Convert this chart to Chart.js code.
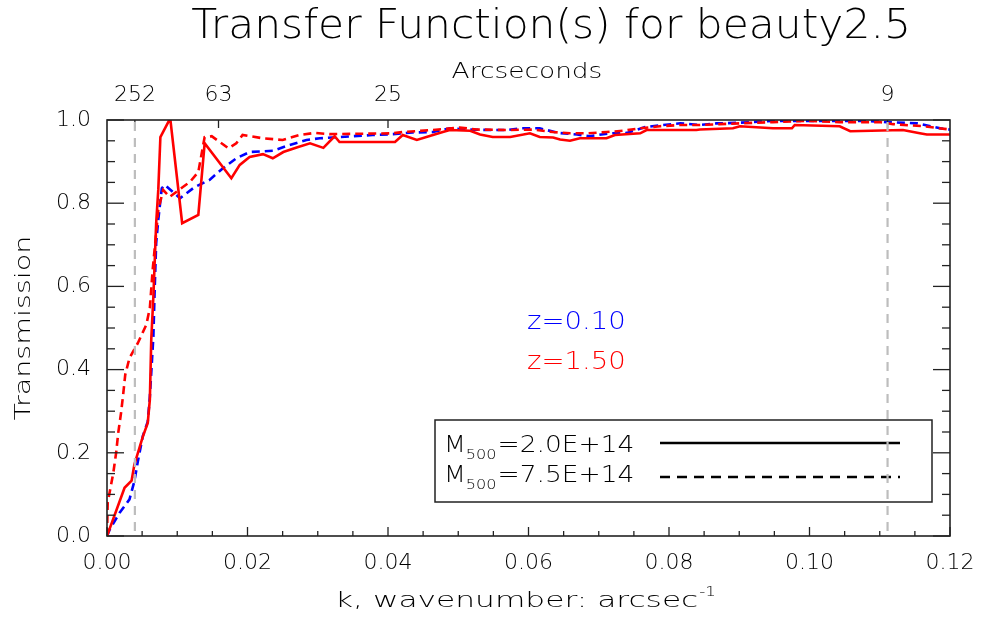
<!DOCTYPE html>
<html><head><meta charset="utf-8">
<script src="https://cdn.jsdelivr.net/npm/chart.js@4/dist/chart.umd.min.js"></script>
<style>html,body{margin:0;padding:0;background:#fff}#wrap{width:982px;height:621px}</style>
</head><body><div id="wrap"><canvas id="c" width="982" height="621"></canvas></div>
<script>
// ---- data ----
const kRedSolid = [0,0.0025,0.0035,0.0039,0.0051,0.0058,0.0061,0.0063,0.0066,0.0068,0.0070,0.0073,0.0076,0.0090,0.0107,0.0130,0.0139,0.0177,0.0189,0.0203,0.0222,0.0236,0.0251,0.0270,0.0289,0.0308,0.0324,0.0331,0.0410,0.0421,0.0441,0.0464,0.0478,0.0488,0.0517,0.0531,0.0549,0.0574,0.0602,0.0616,0.0635,0.0645,0.0659,0.0673,0.0711,0.0723,0.0759,0.0768,0.0839,0.0844,0.0891,0.0901,0.0948,0.0975,0.0979,0.1043,0.1058,0.1133,0.1157,0.1167,0.1200];
const tRedSolid = [0,0.116,0.133,0.172,0.239,0.272,0.328,0.472,0.575,0.664,0.752,0.832,0.959,1.004,0.752,0.772,0.944,0.860,0.892,0.911,0.918,0.908,0.923,0.934,0.944,0.933,0.961,0.947,0.947,0.964,0.952,0.964,0.971,0.976,0.974,0.965,0.959,0.959,0.968,0.959,0.958,0.953,0.950,0.956,0.956,0.964,0.968,0.976,0.976,0.977,0.980,0.985,0.980,0.980,0.988,0.985,0.973,0.976,0.968,0.965,0.965];

const kRedDashed = [0,0.0001,0.0009,0.0013,0.0016,0.0020,0.0023,0.0026,0.0032,0.0044,0.0056,0.0061,0.0065,0.0069,0.0073,0.0080,0.0089,0.0108,0.0118,0.0130,0.0139,0.0149,0.0163,0.0173,0.0184,0.0193,0.0222,0.0250,0.0274,0.0296,0.0317,0.0407,0.0421,0.0464,0.0502,0.0526,0.0574,0.0606,0.0635,0.0659,0.0683,0.0711,0.0734,0.0759,0.0787,0.0816,0.0844,0.0872,0.0901,0.0948,0.0996,0.1043,0.1100,0.1119,0.1162,0.1200];
const tRedDashed = [0,0.08,0.152,0.2,0.248,0.296,0.34,0.388,0.428,0.464,0.508,0.548,0.64,0.71,0.784,0.832,0.815,0.839,0.851,0.875,0.959,0.961,0.944,0.932,0.944,0.964,0.956,0.952,0.964,0.969,0.966,0.968,0.971,0.976,0.982,0.977,0.976,0.977,0.971,0.968,0.968,0.971,0.974,0.980,0.985,0.988,0.988,0.990,0.992,0.995,0.998,0.995,0.995,0.990,0.985,0.977];

const kBlueDashed = [0,0.0004,0.0018,0.0032,0.0039,0.0044,0.0051,0.0058,0.0061,0.0066,0.0068,0.0070,0.0073,0.0078,0.0082,0.0104,0.0125,0.0146,0.0165,0.0184,0.0203,0.0236,0.0260,0.0284,0.0303,0.0331,0.0378,0.0407,0.0435,0.0464,0.0488,0.0512,0.0549,0.0569,0.0588,0.0616,0.0642,0.0669,0.0687,0.0716,0.0740,0.0766,0.0791,0.0816,0.0844,0.0868,0.0896,0.0948,0.0996,0.1043,0.1076,0.1110,0.1153,0.1186,0.1200];
const tBlueDashed = [0,0.016,0.056,0.088,0.132,0.18,0.24,0.275,0.335,0.479,0.6,0.704,0.76,0.836,0.844,0.812,0.839,0.856,0.884,0.908,0.923,0.926,0.94,0.952,0.956,0.959,0.964,0.966,0.97,0.971,0.98,0.977,0.976,0.976,0.98,0.98,0.969,0.965,0.961,0.968,0.969,0.983,0.988,0.992,0.988,0.992,0.993,0.998,0.998,0.998,0.998,0.995,0.992,0.98,0.977];

const topArcsec = [252, 63, 25, 9];     // top axis tick labels (arcseconds)
const markerArcsec = [252, 9];          // gray dashed vertical markers
const redshiftLabels = ['z=0.10', 'z=1.50'];
const massLabels = ['2.0E+14', '7.5E+14'];

const pts = (k, t) => k.map((v, i) => ({x: v, y: t[i]}));
const ink = '#000';
const FONT = '"DejaVu Sans", sans-serif';

// draw text stretched horizontally by sx; align: 'left' | 'center'
function stext(ctx, txt, x, y, size, sx, align, weight) {
  ctx.save();
  ctx.font = (weight || '300') + ' ' + size + 'px ' + FONT;
  const w = ctx.measureText(txt).width * sx;
  const x0 = align === 'center' ? x - w / 2 : x;
  ctx.translate(x0, y); ctx.scale(sx, 1);
  ctx.textAlign = 'left';
  ctx.fillText(txt, 0, 0);
  ctx.restore();
  return w;
}
function measure(ctx, txt, size, sx) {
  ctx.save(); ctx.font = '300 ' + size + 'px ' + FONT;
  const w = ctx.measureText(txt).width * sx; ctx.restore(); return w;
}

const overlay = {
  id: 'overlay',
  afterDatasetsDraw(chart) {
    const ctx = chart.ctx, a = chart.chartArea;
    const xs = chart.scales.x, ys = chart.scales.y, xt = chart.scales.x2;
    ctx.save();
    ctx.strokeStyle = '#222'; ctx.lineWidth = 1.3;
    const line = (x1, y1, x2, y2) => { ctx.beginPath(); ctx.moveTo(x1, y1); ctx.lineTo(x2, y2); ctx.stroke(); };
    for (let i = 0; i <= 24; i++) {
      const px = xs.getPixelForValue(i * 0.005);
      line(px, a.bottom, px, a.bottom - (i % 4 === 0 ? 9 : 5));
    }
    for (let i = 0; i <= 20; i++) {
      const py = ys.getPixelForValue(i * 0.05);
      const L = i % 4 === 0 ? 17 : 8;
      line(a.left, py, a.left + L, py);
      line(a.right, py, a.right - L, py);
    }
    topArcsec.forEach(s => { const px = xt.getPixelForValue(1 / s); line(px, a.top, px, a.top + 8); });
    ctx.lineWidth = 1.6;
    ctx.strokeRect(a.left, a.top, a.right - a.left, a.bottom - a.top);
    ctx.restore();
  },
  afterDraw(chart) {
    const ctx = chart.ctx, a = chart.chartArea, xt = chart.scales.x2;
    ctx.save();
    ctx.fillStyle = ink;
    ctx.textBaseline = 'alphabetic';
    // title
    stext(ctx, 'Transfer Function(s) for beauty2.5', 551, 38, 40, 1.06, 'center');
    // top axis title
    stext(ctx, 'Arcseconds', 527, 78, 22, 1.2, 'center');
    // bottom axis title with superscript
    const main = 'k, wavenumber: arcsec';
    const w1 = measure(ctx, main, 22, 1.42), w2 = measure(ctx, '-1', 14, 1.2);
    const x0 = 525 - (w1 + w2) / 2;
    stext(ctx, main, x0, 607, 22, 1.42, 'left');
    stext(ctx, '-1', x0 + w1 + 1, 596, 14, 1.2, 'left');
    // y title
    ctx.save();
    ctx.translate(30, 328); ctx.rotate(-Math.PI / 2);
    stext(ctx, 'Transmission', 0, 0, 22, 1.3, 'center');
    ctx.restore();
    // redshift annotations
    ctx.fillStyle = '#0000ff'; stext(ctx, redshiftLabels[0], 527, 329, 25, 1.1, 'left');
    ctx.fillStyle = '#ff0000'; stext(ctx, redshiftLabels[1], 527, 369, 25, 1.1, 'left');
    // legend box
    ctx.fillStyle = '#fff';
    ctx.fillRect(435, 420, 497, 82);
    ctx.strokeStyle = '#222'; ctx.lineWidth = 1.5;
    ctx.strokeRect(435, 420, 497, 82);
    ctx.fillStyle = ink;
    const rows = [452, 482];
    rows.forEach((by, i) => {
      let x = 444;
      x += stext(ctx, 'M', x, by, 23, 1.1, 'left');
      x += stext(ctx, '500', x, by + 7, 14, 1.15, 'left') + 1;
      stext(ctx, '=' + massLabels[i], x, by, 23, 1.15, 'left');
    });
    ctx.strokeStyle = '#000'; ctx.lineWidth = 2.6;
    ctx.beginPath(); ctx.moveTo(660, 443); ctx.lineTo(900, 443); ctx.stroke();
    ctx.setLineDash([10, 7]);
    ctx.beginPath(); ctx.moveTo(660, 477); ctx.lineTo(900, 477); ctx.stroke();
    // gray markers
    ctx.strokeStyle = '#bdbdbd'; ctx.lineWidth = 2.2; ctx.setLineDash([9, 7]);
    markerArcsec.forEach(s => {
      const px = xt.getPixelForValue(1 / s);
      ctx.beginPath(); ctx.moveTo(px, a.top + 2); ctx.lineTo(px, a.bottom); ctx.stroke();
    });
    ctx.restore();
  }
};

const noPad = s => { s.paddingLeft = 0; s.paddingRight = 0; };

new Chart(document.getElementById('c'), {
  type: 'line',
  data: {
    datasets: [
      {data: pts(kRedSolid, tRedSolid), borderColor: '#ff0000', borderWidth: 2.6, order: 0},
      {data: pts(kRedDashed, tRedDashed), borderColor: '#ff0000', borderWidth: 2.6, borderDash: [8, 5], order: 1},
      {data: pts(kBlueDashed, tBlueDashed), borderColor: '#0000ff', borderWidth: 2.6, borderDash: [8, 5], order: 2}
    ]
  },
  options: {
    responsive: false,
    animation: false,
    devicePixelRatio: 1,
    layout: {padding: {left: 0, right: 32, top: 0, bottom: 0}},
    elements: {point: {radius: 0}, line: {tension: 0, fill: false}},
    plugins: {legend: {display: false}, tooltip: {enabled: false}, title: {display: false}},
    scales: {
      x: {
        type: 'linear', position: 'bottom', min: 0, max: 0.12,
        grid: {display: false, drawTicks: false, tickLength: 0},
        border: {display: false},
        ticks: {stepSize: 0.02, autoSkip: false, maxRotation: 0, padding: 14, color: ink,
                font: {family: FONT, size: 22, weight: '300'}, callback: v => v.toFixed(2)},
        afterFit: s => { s.height = 85; noPad(s); }
      },
      x2: {
        type: 'linear', position: 'top', min: 0, max: 0.12,
        grid: {display: false, drawTicks: false, tickLength: 0},
        border: {display: false},
        afterBuildTicks: s => { s.ticks = topArcsec.map(v => ({value: 1 / v})); },
        ticks: {autoSkip: false, maxRotation: 0, padding: 12, color: ink,
                font: {family: FONT, size: 22, weight: '300'}, callback: (v, i) => String(topArcsec[i])},
        afterFit: s => { s.height = 120; noPad(s); }
      },
      y: {
        type: 'linear', position: 'left', min: 0, max: 1.0,
        grid: {display: false, drawTicks: false, tickLength: 0},
        border: {display: false},
        ticks: {stepSize: 0.2, padding: 16, color: ink,
                font: {family: FONT, size: 22, weight: '300'}, callback: v => v.toFixed(1)},
        afterFit: s => { s.width = 107; s.paddingTop = 0; s.paddingBottom = 0; }
      }
    }
  },
  plugins: [overlay]
});
</script>
</body></html>
